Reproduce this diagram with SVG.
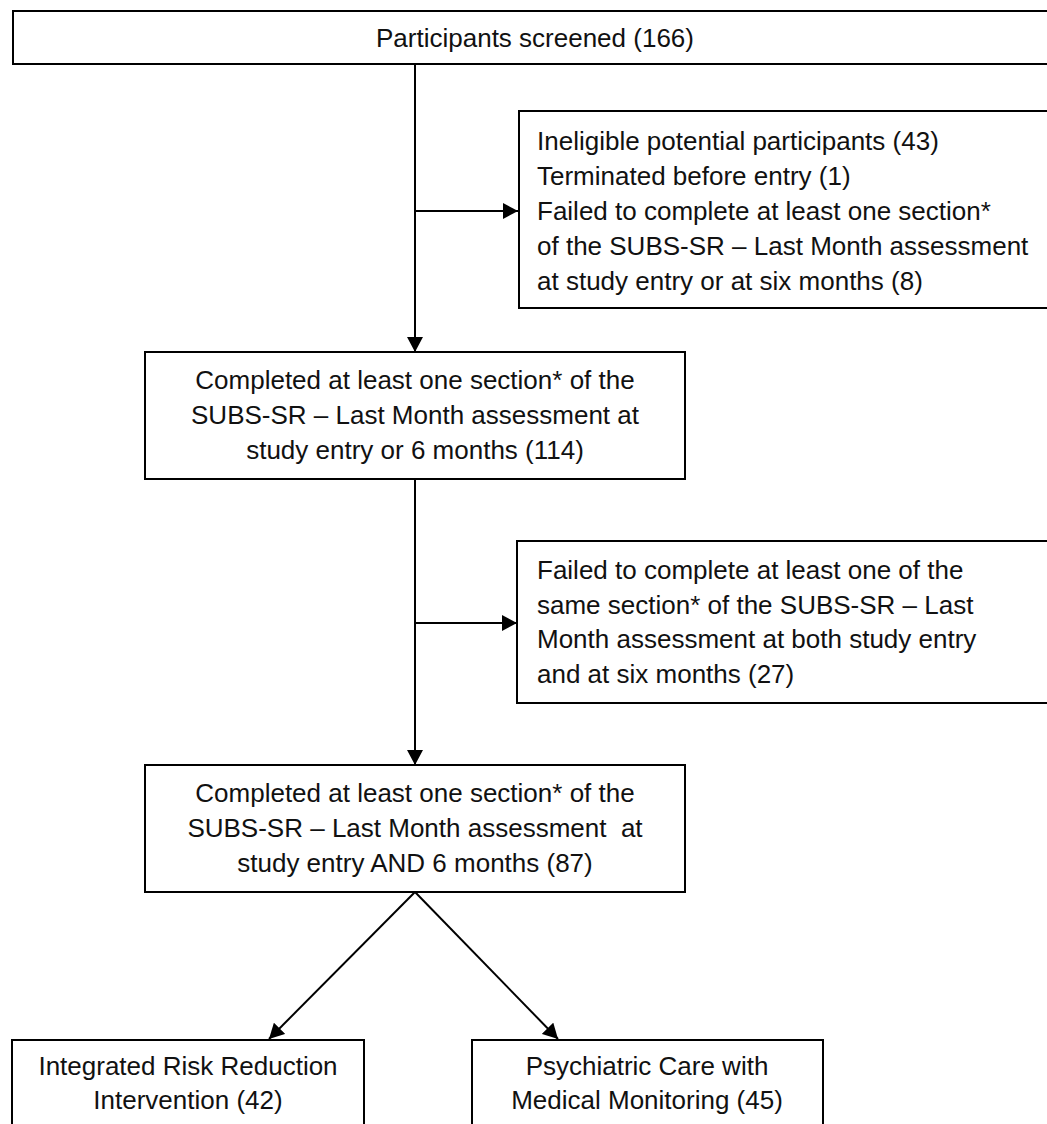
<svg xmlns="http://www.w3.org/2000/svg" width="1047" height="1124" viewBox="0 0 1047 1124">
<style>
.box{fill:#fff;stroke:#000;stroke-width:2}
.t{font-family:"Liberation Sans",Arial,sans-serif;font-size:26px;fill:#111;white-space:pre}
.c{text-anchor:middle}
.ln{stroke:#000;stroke-width:2;fill:none}
</style>
<defs>
<marker id="ah" markerUnits="userSpaceOnUse" markerWidth="16" markerHeight="16" refX="15" refY="8" orient="auto">
<path d="M0,0 L15,8 L0,16 z" fill="#000"/>
</marker>
</defs>
<rect width="1047" height="1124" fill="#fff"/>
<g id="connectors">
<line class="ln" x1="415" y1="64" x2="415" y2="352" marker-end="url(#ah)"/>
<line class="ln" x1="415" y1="211" x2="518" y2="211" marker-end="url(#ah)"/>
<line class="ln" x1="415" y1="479" x2="415" y2="765" marker-end="url(#ah)"/>
<line class="ln" x1="415" y1="623" x2="517" y2="623" marker-end="url(#ah)"/>
<line class="ln" x1="415" y1="892" x2="269" y2="1039" marker-end="url(#ah)"/>
<line class="ln" x1="415" y1="892" x2="558" y2="1039" marker-end="url(#ah)"/>
</g>
<g id="screened">
<rect class="box" x="13" y="11" width="1060" height="53"/>
<text class="t c" x="535" y="47">Participants screened (166)</text>
</g>
<g id="excluded1">
<rect class="box" x="519" y="111" width="560" height="197"/>
<text class="t" x="537" y="150">Ineligible potential participants (43)</text>
<text class="t" x="537" y="185">Terminated before entry (1)</text>
<text class="t" x="537" y="220">Failed to complete at least one section*</text>
<text class="t" x="537" y="255">of the SUBS-SR – Last Month assessment</text>
<text class="t" x="537" y="290">at study entry or at six months (8)</text>
</g>
<g id="completed114">
<rect class="box" x="145" y="352" width="540" height="127"/>
<text class="t c" x="415" y="389">Completed at least one section* of the</text>
<text class="t c" x="415" y="424">SUBS-SR – Last Month assessment at</text>
<text class="t c" x="415" y="459">study entry or 6 months (114)</text>
</g>
<g id="excluded2">
<rect class="box" x="517" y="541" width="560" height="162"/>
<text class="t" x="537" y="579">Failed to complete at least one of the</text>
<text class="t" x="537" y="614">same section* of the SUBS-SR – Last</text>
<text class="t" x="537" y="648">Month assessment at both study entry</text>
<text class="t" x="537" y="683">and at six months (27)</text>
</g>
<g id="completed87">
<rect class="box" x="145" y="765" width="540" height="127"/>
<text class="t c" x="415" y="802">Completed at least one section* of the</text>
<text class="t c" x="415" y="837">SUBS-SR – Last Month assessment  at</text>
<text class="t c" x="415" y="872">study entry AND 6 months (87)</text>
</g>
<g id="irri">
<rect class="box" x="12" y="1040" width="352" height="110"/>
<text class="t c" x="188" y="1075">Integrated Risk Reduction</text>
<text class="t c" x="188" y="1109">Intervention (42)</text>
</g>
<g id="pcmm">
<rect class="box" x="472" y="1040" width="351" height="110"/>
<text class="t c" x="647" y="1075">Psychiatric Care with</text>
<text class="t c" x="647" y="1109">Medical Monitoring (45)</text>
</g>
</svg>
